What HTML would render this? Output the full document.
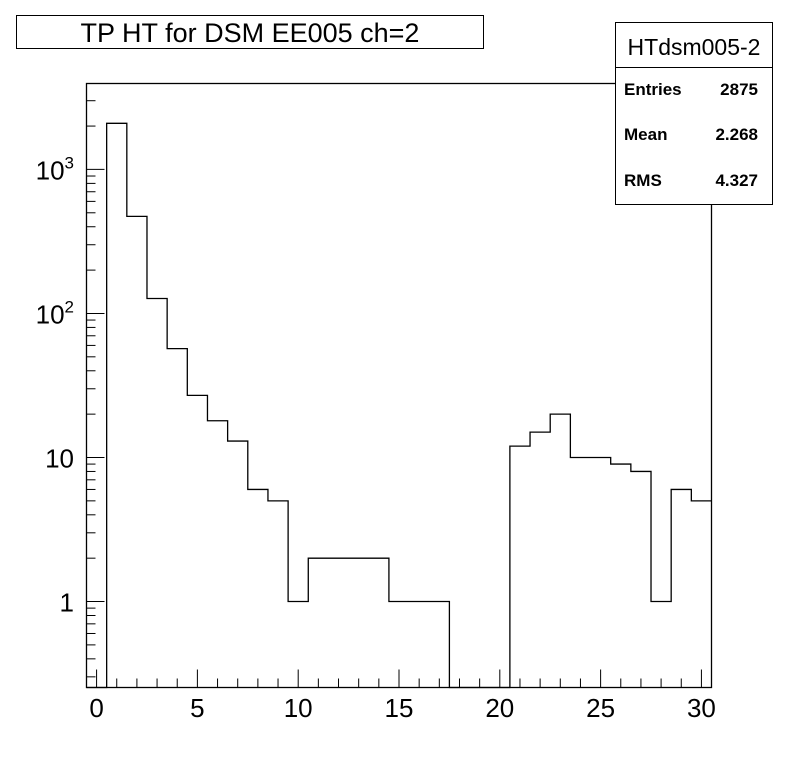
<!DOCTYPE html>
<html><head><meta charset="utf-8"><style>
body{margin:0;background:#fff;}
svg text{font-family:"Liberation Sans",sans-serif;}
</style></head><body>
<svg width="796" height="772" viewBox="0 0 796 772">
<rect x="0" y="0" width="796" height="772" fill="#fff"/>
<g id="frame"></g>
<g id="ticks"></g>
<g id="labels"></g>
<path id="hist" fill="none" stroke="#000" stroke-width="1.3"/>
<rect x="16.5" y="15.5" width="467" height="33" fill="#fff" stroke="#000"/>
<text x="250" y="42" font-size="27" text-anchor="middle">TP HT for DSM EE005 ch=2</text>
<g>
<rect x="615.5" y="22.5" width="157" height="182" fill="#fff" stroke="#000"/>
<line x1="615.5" y1="67.5" x2="772.5" y2="67.5" stroke="#000"/>
<text x="694" y="55" font-size="23" text-anchor="middle">HTdsm005-2</text>
<text x="624" y="95" font-size="17" font-weight="bold">Entries</text>
<text x="758" y="95" font-size="17" font-weight="bold" text-anchor="end">2875</text>
<text x="624" y="140" font-size="17" font-weight="bold">Mean</text>
<text x="758" y="140" font-size="17" font-weight="bold" text-anchor="end">2.268</text>
<text x="624" y="186" font-size="17" font-weight="bold">RMS</text>
<text x="758" y="186" font-size="17" font-weight="bold" text-anchor="end">4.327</text>
</g>
</svg>
<script>
const binCenters=[0,1,2,3,4,5,6,7,8,9,10,11,12,13,14,15,16,17,18,19,20,21,22,23,24,25,26,27,28,29,30];
const binCounts=[0,2090,472,127,57,27,18,13,6,5,1,2,2,2,2,1,1,1,0,0,0,12,15,20,10,10,9,8,1,6,5];
const xTickLabels=["0","5","10","15","20","25","30"];
const xTickValues=[0,5,10,15,20,25,30];
const yTickValues=[1,10,100,1000];
const yTickLabels=["1","10","10^2","10^3"];

const L=86.5,R=711.5,T=83.5,B=687.5,XMIN=-0.5,XMAX=30.5,YMIN=Math.log10(0.253),YMAX=Math.log10(3950);
const X=v=>L+(v-XMIN)/(XMAX-XMIN)*(R-L);
const Y=v=>B-(Math.log10(v)-YMIN)/(YMAX-YMIN)*(B-T);
const NS="http://www.w3.org/2000/svg";
function mk(tag,attrs,parent){const e=document.createElementNS(NS,tag);for(const k in attrs)e.setAttribute(k,attrs[k]);parent.appendChild(e);return e;}
const frame=document.getElementById('frame'),ticks=document.getElementById('ticks'),labels=document.getElementById('labels');
const fr=mk('rect',{x:L,y:T,width:R-L,height:B-T,fill:'none',stroke:'#000','stroke-width':1.3},frame);


for(let v=0;v<=30;v++){
  const major=v%5===0;
  const t=mk('line',{x1:X(v),x2:X(v),y1:B,y2:B-(major?18:9),stroke:'#000'},ticks);
  
  
}
xTickValues.forEach((v,i)=>{
  const t=mk('text',{x:X(v),y:717,'font-size':26,'text-anchor':'middle'},labels);
  t.textContent=xTickLabels[i];
  
  
});
for(let d=-1;d<=3;d++){for(let m=1;m<=9;m++){
  const v=m*Math.pow(10,d);
  if(v<0.253||v>3950)continue;
  const t=mk('line',{x1:L,x2:L+(m===1?18:9),y1:Y(v),y2:Y(v),stroke:'#000'},ticks);
  
  
}}
yTickValues.forEach((v,i)=>{
  const lab=yTickLabels[i];
  const t=mk('text',{x:74,y:Y(v)+10,'font-size':26,'text-anchor':'end'},labels);
  
  
  if(lab.indexOf('^')>0){
    const p=lab.split('^');
    const a=mk('tspan',{},t);a.textContent=p[0];
    const b=mk('tspan',{dy:-11,'font-size':17},t);b.textContent=p[1];
  } else t.textContent=lab;
});
let d='';const yb=v=>v>0?Math.min(Math.max(Y(v),T),B):B;
binCenters.forEach((c,i)=>{
  const x0=X(c-0.5),x1=X(c+0.5),y=yb(binCounts[i]);
  d+=(i===0?'M'+x0+','+y:'L'+x0+','+y)+'L'+x1+','+y;
});
document.getElementById('hist').setAttribute('d',d);
</script>
</body></html>
